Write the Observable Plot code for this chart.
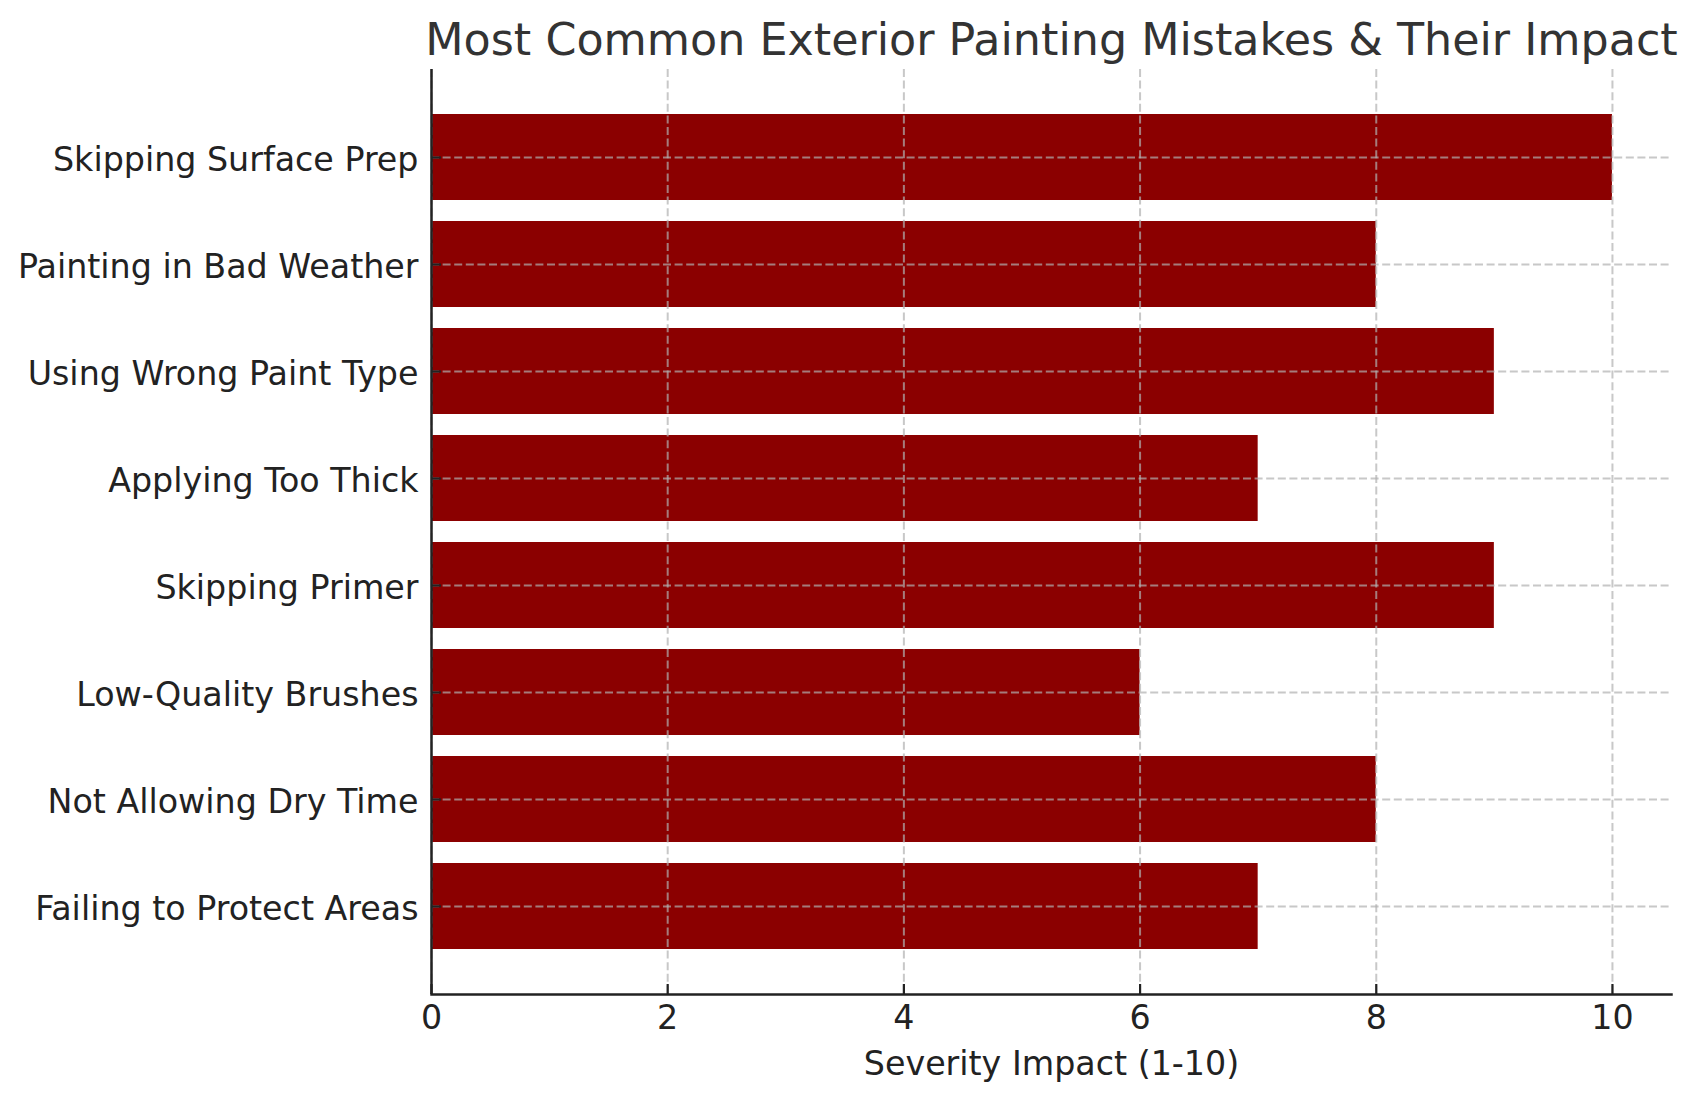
<!DOCTYPE html>
<html>
<head>
<meta charset="utf-8">
<script src="https://cdn.jsdelivr.net/npm/d3@7"></script>
<script src="https://cdn.jsdelivr.net/npm/@observablehq/plot@0.6"></script>
<style>
  html, body { margin: 0; padding: 0; background: white; }
</style>
</head>
<body>
<div id="chart"></div>
<script>
const categories = [
  "Skipping Surface Prep",
  "Painting in Bad Weather",
  "Using Wrong Paint Type",
  "Applying Too Thick",
  "Skipping Primer",
  "Low-Quality Brushes",
  "Not Allowing Dry Time",
  "Failing to Protect Areas"
];
const severity = [10, 8, 9, 7, 9, 6, 8, 7];
const xTicks = [0, 2, 4, 6, 8, 10];
const titleText = "Most Common Exterior Painting Mistakes & Their Impact";
const xLabelText = "Severity Impact (1-10)";

const data = categories.map((name, i) => ({name, value: severity[i]}));

const gridStyle = {stroke: "#b0b0b0", strokeOpacity: 0.7, strokeWidth: 2, strokeDasharray: "8,3.6"};
const ink = "#222";

const chart = Plot.plot({
  width: 1698,
  height: 1101,
  marginLeft: 431,
  marginRight: 27,
  marginTop: 69,
  marginBottom: 107,
  style: {fontFamily: "DejaVu Sans", background: "white", overflow: "visible"},
  x: {domain: [0, 10.5]},
  y: {domain: categories, paddingInner: 0.2, paddingOuter: 0.4},
  marks: [
    Plot.barX(data, {y: "name", x: "value", fill: "#8b0000"}),
    Plot.gridX(xTicks, gridStyle),
    Plot.gridY(categories, gridStyle),
    Plot.axisX({ticks: xTicks, tickFormat: d => String(d), tickSize: 0, tickPadding: 11, fontSize: 33.3, color: ink, label: null}),
    Plot.axisY({tickSize: 0, tickPadding: 13, fontSize: 33.3, color: ink, label: null, dy: 3}),
    Plot.ruleX(xTicks, {insetTop: 915, stroke: ink, strokeWidth: 2.2}),
    Plot.ruleY(categories, {y: d => d, insetRight: 1230, stroke: ink, strokeWidth: 2.2}),
    Plot.ruleX([0], {stroke: ink, strokeWidth: 2.5}),
    Plot.frame({anchor: "bottom", stroke: ink, strokeWidth: 2.5}),
    Plot.text([titleText], {text: d => d, frameAnchor: "top", lineAnchor: "bottom", dy: -14.7, fontSize: 44.4, fill: "#333"}),
    Plot.text([xLabelText], {text: d => d, frameAnchor: "bottom", lineAnchor: "bottom", dy: 80, fontSize: 33.3, fill: ink})
  ]
});
document.getElementById("chart").appendChild(chart);
</script>
</body>
</html>
